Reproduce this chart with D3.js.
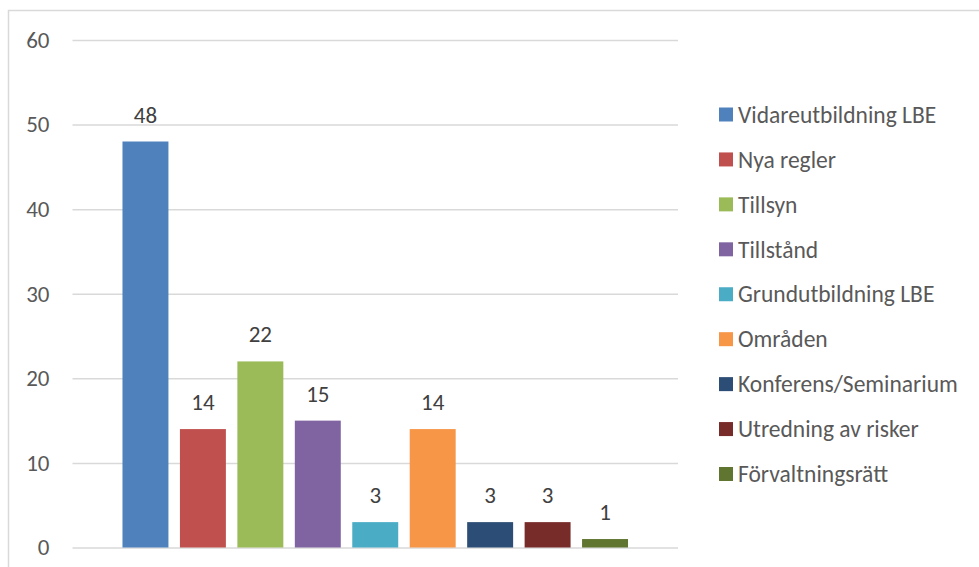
<!DOCTYPE html>
<html>
<head>
<meta charset="utf-8">
<script src="https://cdn.jsdelivr.net/npm/d3@7"></script>
<style>
  body { margin: 0; background: #fff; }
  text { font-family: Carlito, Calibri, Lato, sans-serif; }
</style>
</head>
<body>
<div id="chart"></div>
<script>
// chart data
var categories = ["Vidareutbildning LBE", "Nya regler", "Tillsyn", "Tillstånd",
  "Grundutbildning LBE", "Områden", "Konferens/Seminarium", "Utredning av risker",
  "Förvaltningsrätt"];
var values = [48, 14, 22, 15, 3, 14, 3, 3, 1];
var colors = ["#4F81BD", "#C0504D", "#9BBB59", "#8064A2", "#4BACC6", "#F79646",
  "#2C4D75", "#772C2A", "#5F7530"];
var yTicks = [0, 10, 20, 30, 40, 50, 60];

var svgWidth = 979;
var svgHeight = 567;

var svg = d3.select("#chart")
  .append("svg")
  .attr("width", svgWidth)
  .attr("height", svgHeight);

// outer frame (only top and left are visible in the picture)
svg.append("path")
  .attr("d", "M8.5,567 L8.5,10.5 L979,10.5")
  .attr("fill", "none")
  .attr("stroke", "#d9d9d9")
  .attr("stroke-width", 1.5);

// Step 1: scales
var xScale = d3.scaleBand()
  .domain(categories)
  .range([72.5, 678])
  .paddingInner(0.2)
  .paddingOuter(0.87);

var yScale = d3.scaleLinear()
  .domain([0, 60])
  .range([547.5, 40]);

// Step 2: gridlines + axis labels
var leftAxis = d3.axisLeft(yScale)
  .tickValues(yTicks)
  .tickSize(-(678 - 72.5))
  .tickPadding(23);

var axisGroup = svg.append("g")
  .attr("transform", "translate(72.5, 0)")
  .call(leftAxis);

axisGroup.select(".domain").remove();
axisGroup.selectAll(".tick line")
  .attr("stroke", "#d9d9d9")
  .attr("stroke-width", 1.5);
axisGroup.selectAll(".tick text")
  .attr("fill", "#595959")
  .style("font-size", "23px");

// Step 3: bars
svg.append("g")
  .selectAll("rect")
  .data(values)
  .enter()
  .append("rect")
  .attr("x", (d, i) => xScale(categories[i]))
  .attr("y", d => yScale(d))
  .attr("width", xScale.bandwidth())
  .attr("height", d => yScale(0) - yScale(d))
  .attr("fill", (d, i) => colors[i]);

// data labels
svg.append("g")
  .selectAll("text")
  .data(values)
  .enter()
  .append("text")
  .attr("x", (d, i) => xScale(categories[i]) + xScale.bandwidth() / 2)
  .attr("y", d => yScale(d) - 19)
  .attr("text-anchor", "middle")
  .attr("fill", "#404040")
  .style("font-size", "23px")
  .text(d => d);

// Step 4: legend
var legendY = d3.scalePoint()
  .domain(categories)
  .range([114.5, 474]);

var legend = svg.append("g")
  .selectAll("g")
  .data(categories)
  .enter()
  .append("g")
  .attr("transform", d => `translate(719, ${legendY(d)})`);

legend.append("rect")
  .attr("x", 0)
  .attr("y", -7)
  .attr("width", 14)
  .attr("height", 14)
  .attr("fill", (d, i) => colors[i]);

legend.append("text")
  .attr("x", 19)
  .attr("y", 0)
  .attr("dy", "0.35em")
  .attr("fill", "#595959")
  .style("font-size", "23.5px")
  .text(d => d);
</script>
</body>
</html>
